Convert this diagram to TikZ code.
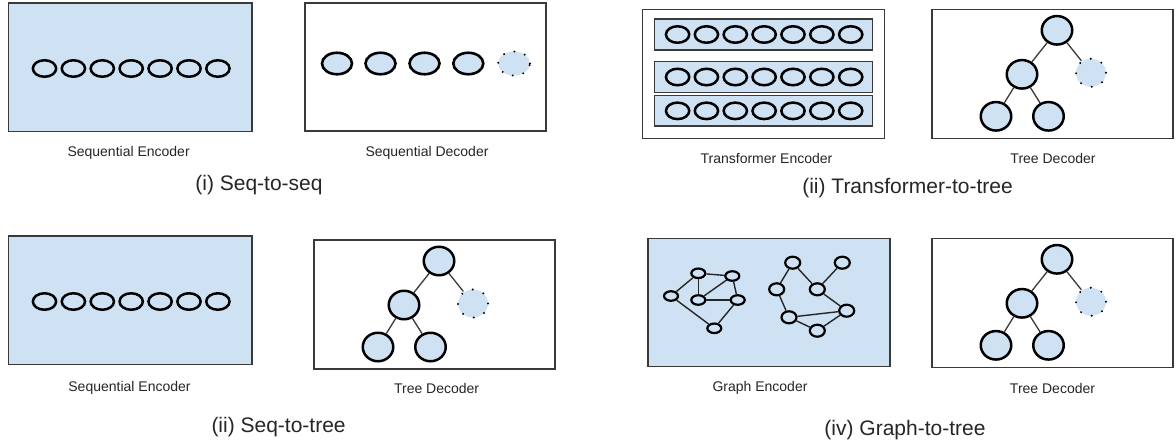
\documentclass[tikz,border=0pt]{standalone}
\usepackage{fontspec}
\setmainfont{Liberation Sans}
\usetikzlibrary{shapes.geometric}
\definecolor{lb}{HTML}{CFE2F3}
\definecolor{ink}{HTML}{262626}
\definecolor{frame}{HTML}{3A3A3A}
\newcommand{\mytreedec}[3]{%
  \begin{scope}[shift={(#2,#3)}]
    \draw[panel] (0,0) rectangle (241,129);
    \node[treenode] (#1r) at (125,21) {};
    \node[treenode] (#1m) at (90,65) {};
    \node[treedots] (#1d) at (159,63.5) {};
    \node[treenode] (#1a) at (64,107) {};
    \node[treenode] (#1b) at (116.5,107) {};
    \draw[tedge] (#1r) -- (#1m);
    \draw[tedge] (#1r) -- (#1d);
    \draw[tedge] (#1m) -- (#1a);
    \draw[tedge] (#1m) -- (#1b);
  \end{scope}}
\newcommand{\myseqenc}[3]{%
  \begin{scope}[shift={(#2,#3)}]
    \draw[encpanel] (0,0) rectangle (243.5,128.5);
    \foreach \k in {0,...,6}{
      \node[seqnode] (#1\k) at ({36+28.9*\k},65.5) {};
    }
  \end{scope}}
\begin{document}
\begin{tikzpicture}[x=1pt,y=-1pt,
  panel/.style={draw=frame,line width=1.3pt},
  encpanel/.style={panel,fill=lb},
  seqnode/.style={ellipse,draw=black,line width=2.5pt,fill=lb,minimum width=23.3pt,minimum height=16.5pt,inner sep=0pt},
  decnode/.style={ellipse,draw=black,line width=2.6pt,fill=lb,minimum width=30pt,minimum height=21.5pt,inner sep=0pt},
  decdots/.style={ellipse,draw=black,line width=2.2pt,line cap=round,dash pattern=on 0pt off 10.8pt,fill=lb,minimum width=32pt,minimum height=24pt,inner sep=0pt},
  treenode/.style={ellipse,draw=black,line width=2.5pt,fill=lb,minimum width=30.5pt,minimum height=28.5pt,inner sep=0pt},
  treedots/.style={ellipse,draw=black,line width=2.2pt,line cap=round,dash pattern=on 0pt off 11.5pt,fill=lb,minimum width=30pt,minimum height=28pt,inner sep=0pt},
  gsmall/.style={ellipse,draw=black,line width=2.2pt,fill=lb,minimum width=14pt,minimum height=9.5pt,inner sep=0pt},
  gbig/.style={ellipse,draw=black,line width=2.2pt,fill=lb,minimum width=15pt,minimum height=12pt,inner sep=0pt},
  tedge/.style={draw=frame,line width=1.3pt},
  gedge/.style={draw=black!85,line width=1.4pt},
  lab/.style={text=ink,inner sep=0pt,font=\fontsize{14}{16}\selectfont},
  ttl/.style={text=ink,inner sep=0pt,font=\fontsize{21}{24}\selectfont}]

\useasboundingbox[fill=white] (0,0) rectangle (1176,445);

% ---------- (i) Seq-to-seq ----------
\myseqenc{ea}{8.5}{3}
\draw[panel] (305,3) rectangle (546,131);
\node[decnode] (d1) at (337,63.5) {};
\node[decnode] (d2) at (380.5,63.5) {};
\node[decnode] (d3) at (424.5,63.5) {};
\node[decnode] (d4) at (468.3,63.5) {};
\node[decdots] (d5) at (514,63.5) {};
\node[lab] (la1) at (128.6,153.3) {Sequential Encoder};
\node[lab] (la2) at (427,153.3) {Sequential Decoder};
\node[ttl] (ta) at (259,185) {(i) Seq-to-seq};

% ---------- (ii) Transformer-to-tree ----------
\draw[panel] (642.5,9.3) rectangle (884.4,138.3);
\foreach \r/\ya/\yb in {1/19/50, 2/61.7/92.3, 3/95.7/126}{
  \draw[encpanel] (654.4,\ya) rectangle (872.5,\yb);
  \foreach \k in {0,...,6}{
    \node[seqnode] (t\r-\k) at ({677.6+28.85*\k},{(\ya+\yb)/2}) {};
  }
}
\mytreedec{tb}{932}{9.3}
\node[lab] (lb1) at (766.5,158.5) {Transformer Encoder};
\node[lab] (lb2) at (1053,158.5) {Tree Decoder};
\node[ttl] (tbt) at (907.5,188.5) {(ii) Transformer-to-tree};

% ---------- (ii) Seq-to-tree ----------
\myseqenc{ec}{8.5}{236}
\mytreedec{tc}{314}{240}
\node[lab] (lc1) at (129.5,388.3) {Sequential Encoder};
\node[lab] (lc2) at (436.6,388) {Tree Decoder};
\node[ttl] (tct) at (278.6,426.7) {(ii) Seq-to-tree};

% ---------- (iv) Graph-to-tree ----------
\draw[encpanel] (648,238.3) rectangle (890,366.7);
\node[gsmall] (ga) at (671,296) {};
\node[gsmall] (gb) at (698.3,273.3) {};
\node[gsmall] (gc) at (732.3,276) {};
\node[gsmall] (gd) at (698.3,300) {};
\node[gsmall] (ge) at (737.7,300) {};
\node[gsmall] (gf) at (714.3,328.3) {};
\draw[gedge] (ga) -- (gb);
\draw[gedge] (ga) -- (gf);
\draw[gedge] (gb) -- (gc);
\draw[gedge] (gb) -- (gd);
\draw[gedge] (gd) -- (gc);
\draw[gedge] (gd) -- (ge);
\draw[gedge] (gc) -- (ge);
\draw[gedge] (ge) -- (gf);
\node[gbig] (gg) at (792.7,262.7) {};
\node[gbig] (gh) at (842.3,262.7) {};
\node[gbig] (gi) at (776.7,289.3) {};
\node[gbig] (gj) at (817.3,289.3) {};
\node[gbig] (gk) at (846.7,310.7) {};
\node[gbig] (gl) at (789,317.3) {};
\node[gbig] (gm) at (817.3,330.7) {};
\draw[gedge] (gg) -- (gi);
\draw[gedge] (gg) -- (gj);
\draw[gedge] (gh) -- (gj);
\draw[gedge] (gi) -- (gl);
\draw[gedge] (gj) -- (gk);
\draw[gedge] (gl) -- (gk);
\draw[gedge] (gl) -- (gm);
\draw[gedge] (gm) -- (gk);
\mytreedec{td}{932}{238.3}
\node[lab] (ld1) at (760,387.7) {Graph Encoder};
\node[lab] (ld2) at (1052.5,388) {Tree Decoder};
\node[ttl] (tdt) at (905,430) {(iv) Graph-to-tree};
\end{tikzpicture}
\end{document}
